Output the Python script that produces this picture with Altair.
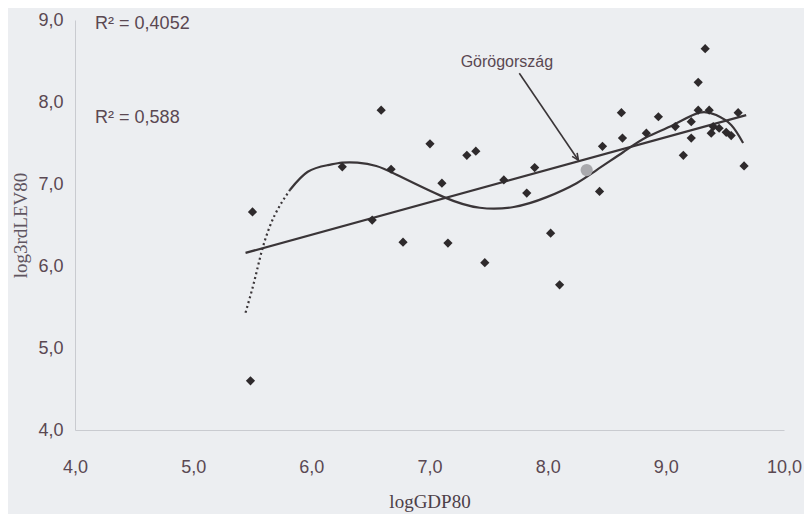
import altair as alt
import pandas as pd

# Scatter points (logGDP80, log3rdLEV80)
pts_x = [5.485, 5.502, 6.591, 6.262, 6.675, 6.515, 6.776, 7.004, 7.105, 7.316,
         7.392, 7.156, 7.468, 7.629, 7.890, 7.823, 8.025, 8.101, 8.439, 8.464,
         8.624, 8.633, 8.835, 8.937, 9.080, 9.148, 9.215, 9.215, 9.274, 9.274,
         9.333, 9.367, 9.401, 9.451, 9.511, 9.553, 9.384, 9.612, 9.662]
pts_y = [4.60, 6.66, 7.90, 7.21, 7.18, 6.56, 6.29, 7.49, 7.01, 7.35,
         7.40, 6.28, 6.04, 7.05, 7.20, 6.89, 6.40, 5.77, 6.91, 7.46,
         7.87, 7.56, 7.62, 7.82, 7.70, 7.35, 7.56, 7.76, 7.90, 8.24,
         8.65, 7.90, 7.70, 7.68, 7.63, 7.59, 7.62, 7.87, 7.22]

# Greece
greece_x = [8.33]
greece_y = [7.17]

# Linear trendline
lin_x = [5.443, 9.68]
lin_y = [6.16, 7.84]

# Polynomial trendline: dotted start, then solid
poly_dot_x = [5.443, 5.52, 5.59, 5.69, 5.82]
poly_dot_y = [5.43, 5.83, 6.23, 6.62, 6.93]
poly_x = [5.82, 5.97, 6.14, 6.26, 6.39, 6.55, 6.726, 7.122, 7.426, 7.713,
          7.992, 8.245, 8.414, 8.641, 8.835, 9.063, 9.283, 9.426, 9.553, 9.654]
poly_y = [6.93, 7.15, 7.23, 7.26, 7.26, 7.22, 7.11, 6.84, 6.71, 6.72,
          6.84, 7.01, 7.17, 7.39, 7.57, 7.72, 7.87, 7.84, 7.72, 7.50]

# Annotations
r2_labels = ["R² = 0,4052", "R² = 0,588"]
r2_x = [4.17, 4.17]
r2_y = [8.95, 7.80]
note_text = ["Görögország"]
note_x = [7.655]
note_y = [8.49]
arrow_x = [7.76]
arrow_y = [8.35]
arrow_x2 = [8.26]
arrow_y2 = [7.29]

x_ticks = [4, 5, 6, 7, 8, 9, 10]
y_ticks = [4, 5, 6, 7, 8, 9]

INK = "#2e2a2c"
TXT = "#5a4852"
SANS = "Liberation Sans Narrow, Arial Narrow, Liberation Sans"
SERIF = "Liberation Serif, Times New Roman"

xs = alt.Scale(domain=[4, 10], nice=False, zero=False)
ys = alt.Scale(domain=[4, 9], nice=False, zero=False)
lab = "replace(format(datum.value, '.1f'), '.', ',')"

pts = pd.DataFrame({"x": pts_x, "y": pts_y})
base_pts = alt.Chart(pts).mark_point(
    shape="diamond", filled=True, color=INK, size=85, opacity=1
).encode(
    x=alt.X("x:Q", scale=xs, title="logGDP80",
            axis=alt.Axis(values=x_ticks, labelExpr=lab, grid=False, ticks=False,
                          labelFlush=False, labelOverlap=False,
                          domainColor="#c9cbd0", labelPadding=28, titlePadding=16,
                          labelFont=SANS, labelFontSize=18, labelColor=TXT,
                          titleFont=SERIF, titleFontSize=19, titleColor="#4d4048",
                          titleFontWeight="normal")),
    y=alt.Y("y:Q", scale=ys, title="log3rdLEV80",
            axis=alt.Axis(values=y_ticks, labelExpr=lab, grid=False, ticks=False,
                          labelFlush=False, labelOverlap=False,
                          domainColor="#c9cbd0", labelPadding=12, titlePadding=7,
                          labelFont=SANS, labelFontSize=18, labelColor=TXT,
                          titleFont=SERIF, titleFontSize=19, titleColor="#5f5560",
                          titleFontWeight="normal")),
)

lin = alt.Chart(pd.DataFrame({"x": lin_x, "y": lin_y})).mark_line(
    color="#3a3538", strokeWidth=2.2
).encode(x=alt.X("x:Q", scale=xs), y=alt.Y("y:Q", scale=ys))

poly_dot = alt.Chart(pd.DataFrame({"x": poly_dot_x, "y": poly_dot_y})).mark_line(
    color="#3a3538", strokeWidth=2.2, strokeDash=[2, 3], interpolate="natural"
).encode(x=alt.X("x:Q", scale=xs), y=alt.Y("y:Q", scale=ys))

poly = alt.Chart(pd.DataFrame({"x": poly_x, "y": poly_y})).mark_line(
    color="#3a3538", strokeWidth=2.2, interpolate="natural"
).encode(x=alt.X("x:Q", scale=xs), y=alt.Y("y:Q", scale=ys))

greece = alt.Chart(pd.DataFrame({"x": greece_x, "y": greece_y})).mark_point(
    shape="circle", filled=True, color="#a9a9ad", size=150, opacity=1
).encode(x=alt.X("x:Q", scale=xs), y=alt.Y("y:Q", scale=ys))

r2 = alt.Chart(pd.DataFrame({"x": r2_x, "y": r2_y, "t": r2_labels})).mark_text(
    align="left", baseline="middle", font=SANS, fontSize=18, color=TXT
).encode(x=alt.X("x:Q", scale=xs), y=alt.Y("y:Q", scale=ys), text="t:N")

note = alt.Chart(pd.DataFrame({"x": note_x, "y": note_y, "t": note_text})).mark_text(
    align="center", baseline="middle", font=SANS, fontSize=16, color=TXT
).encode(x=alt.X("x:Q", scale=xs), y=alt.Y("y:Q", scale=ys), text="t:N")

arrow_df = pd.DataFrame({"x": arrow_x, "y": arrow_y, "x2": arrow_x2, "y2": arrow_y2})
arrow = alt.Chart(arrow_df).mark_rule(color="#3a3538", strokeWidth=1.6).encode(
    x=alt.X("x:Q", scale=xs), y=alt.Y("y:Q", scale=ys), x2="x2:Q", y2="y2:Q"
)
head = alt.Chart(arrow_df).mark_point(
    shape="M-0.45,-1L0,0L0.45,-1", filled=False, color="#3a3538",
    strokeWidth=1.6, size=180, angle=326, opacity=1
).encode(x=alt.X("x2:Q", scale=xs), y=alt.Y("y2:Q", scale=ys))

chart = alt.layer(lin, poly_dot, poly, base_pts, greece, arrow, head, r2, note).properties(
    width=709, height=410,
    autosize=alt.AutoSizeParams(type="none"),
    padding={"left": 67, "top": 12, "right": 20, "bottom": 84},
    background="#eceef1",
).configure_view(stroke=None)

chart.save("out.html", embed_options={"renderer": "svg", "actions": False})
